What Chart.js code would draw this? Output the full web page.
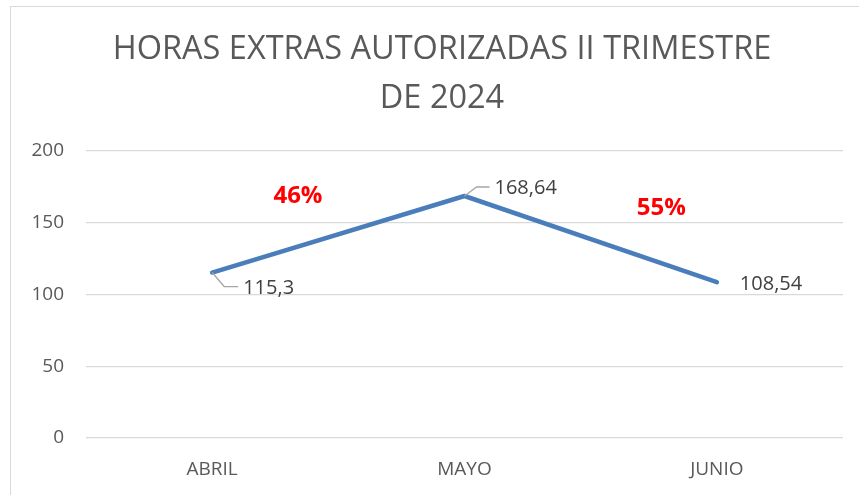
<!DOCTYPE html>
<html>
<head>
<meta charset="utf-8">
<script src="https://cdn.jsdelivr.net/npm/chart.js@4"></script>
<style>
  html, body { margin: 0; padding: 0; background: #fff; }
  canvas { display: block; }
</style>
</head>
<body>
<canvas id="c" width="859" height="495"></canvas>
<script>
const categories = ["ABRIL", "MAYO", "JUNIO"];
const horasExtras = [115.3, 168.64, 108.54];
const valueLabels = ["115,3", "168,64", "108,54"];
const yTicks = [0, 50, 100, 150, 200];
const titleLines = ["HORAS EXTRAS AUTORIZADAS II TRIMESTRE", "DE 2024"];
const percentLabels = ["46%", "55%"];
// anchor of each percentage label expressed in chart units (category index, value)
const percentAnchorIndex = [0.34, 1.78];
const percentAnchorValue = [168.8, 160.4];

const FONT = "'Open Sans', 'Liberation Sans', sans-serif";
const GRAY = "#595959";

const decorPlugin = {
  id: "decor",
  beforeDraw(chart) {
    const ctx = chart.ctx;
    ctx.save();
    ctx.fillStyle = "#fff";
    ctx.fillRect(0, 0, chart.width, chart.height);
    ctx.strokeStyle = "#d9d9d9";
    ctx.lineWidth = 1;
    ctx.strokeRect(10.5, 6.5, 900, 600);
    // title
    ctx.fillStyle = GRAY;
    ctx.font = "32.5px " + FONT;
    ctx.textAlign = "center";
    ctx.textBaseline = "middle";
    ctx.fillText(titleLines[0], 442, 50);
    ctx.fillText(titleLines[1], 442, 99);
    ctx.restore();
  },
  afterDatasetsDraw(chart) {
    const ctx = chart.ctx;
    const meta = chart.getDatasetMeta(0);
    const xs = chart.scales.x, ys = chart.scales.y;
    ctx.save();
    // leader lines
    ctx.strokeStyle = "#a6a6a6";
    ctx.lineWidth = 1.3;
    const p0 = meta.data[0], p1 = meta.data[1], p2 = meta.data[2];
    ctx.beginPath();
    ctx.moveTo(p0.x, p0.y);
    ctx.lineTo(p0.x + 12, p0.y + 14);
    ctx.lineTo(p0.x + 26, p0.y + 14);
    ctx.stroke();
    ctx.beginPath();
    ctx.moveTo(p1.x, p1.y);
    ctx.lineTo(p1.x + 12, p1.y - 9);
    ctx.lineTo(p1.x + 25, p1.y - 9);
    ctx.stroke();
    // value labels
    ctx.fillStyle = "#404040";
    ctx.font = "20px " + FONT;
    ctx.textAlign = "left";
    ctx.textBaseline = "middle";
    ctx.fillText(valueLabels[0], p0.x + 31, p0.y + 16);
    ctx.fillText(valueLabels[1], p1.x + 30, p1.y - 8);
    ctx.fillText(valueLabels[2], p2.x + 23, p2.y + 2);
    // percentage labels
    ctx.fillStyle = "#ff0000";
    ctx.font = "bold 24px " + FONT;
    ctx.textAlign = "center";
    for (let i = 0; i < percentLabels.length; i++) {
      ctx.fillText(percentLabels[i], xs.getPixelForValue(percentAnchorIndex[i]), ys.getPixelForValue(percentAnchorValue[i]));
    }
    ctx.restore();
  }
};

new Chart(document.getElementById("c"), {
  type: "line",
  data: {
    labels: categories,
    datasets: [{
      data: horasExtras,
      borderColor: "#4a7ebb",
      borderWidth: 4.5,
      borderCapStyle: "round",
      borderJoinStyle: "round",
      pointRadius: 0,
      pointHoverRadius: 0,
      tension: 0,
      fill: false
    }]
  },
  options: {
    responsive: false,
    animation: false,
    events: [],
    layout: { padding: { top: 151, right: 16, left: 0, bottom: 0 } },
    plugins: { legend: { display: false }, tooltip: { enabled: false }, title: { display: false } },
    scales: {
      x: {
        offset: true,
        grid: { display: false, drawTicks: false },
        border: { display: false },
        ticks: { color: GRAY, font: { family: FONT, size: 19 }, padding: 20 },
        afterFit(scale) { scale.height = 57; }
      },
      y: {
        min: 0, max: 200,
        afterBuildTicks(scale) { scale.ticks = yTicks.map(v => ({ value: v })); },
        grid: { color: "#d9d9d9", lineWidth: 1.3, drawTicks: false },
        border: { display: false },
        ticks: { color: GRAY, font: { family: FONT, size: 19 }, padding: 22 },
        afterFit(scale) { scale.width = 86; }
      }
    }
  },
  plugins: [decorPlugin]
});
</script>
</body>
</html>
